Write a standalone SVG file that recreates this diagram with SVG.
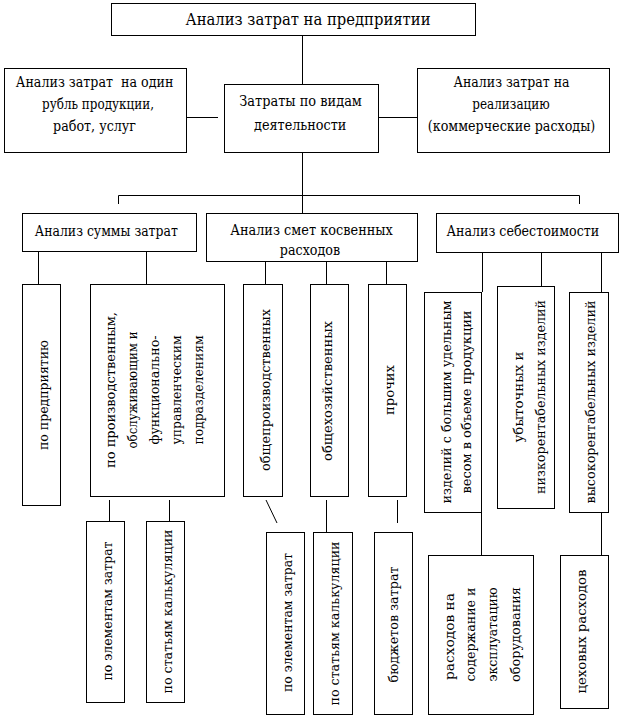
<svg xmlns="http://www.w3.org/2000/svg" width="622" height="717" viewBox="0 0 622 717">
<style>
.b{fill:#fff;stroke:#000;stroke-width:1}
.c{fill:none;stroke:#000;stroke-width:1}
.s{font-family:"DejaVu Serif","Liberation Serif",serif;font-size:14.5px;fill:#000;text-anchor:middle}
.t{font-size:16px}
.m{font-family:"DejaVu Serif","Liberation Serif",serif;font-size:12px;fill:#000;text-anchor:middle}
</style>
<rect width="622" height="717" fill="#fff"/>
<g id="connectors">
<path class="c" d="M302.5 35V84"/>
<path class="c" d="M182 117.5H218"/>
<path class="c" d="M374 117.5H422"/>
<path class="c" d="M302.5 152V213"/>
<path class="c" d="M118.5 204V195.5H579.5V204"/>
<path class="c" d="M38.5 251V284M146.5 251V284"/>
<path class="c" d="M265.5 261V284M326.5 261V284M386.5 261V284"/>
<path class="c" d="M482.5 252V292M541.5 252V286M601.5 252V292"/>
<path class="c" d="M109.5 500V522M169.5 500V522"/>
<path class="c" d="M266 500L277 523"/>
<path class="c" d="M326.5 500V533"/>
<path class="c" d="M397.5 500V523"/>
<path class="c" d="M481.5 512V560"/>
<path class="c" d="M601.5 512V560"/>
</g>
<g id="n-title"><rect class="b" x="111.5" y="3.5" width="364" height="32"/><text class="s t" x="308" y="24.5" textLength="245" lengthAdjust="spacingAndGlyphs">Анализ затрат на предприятии</text></g>
<g id="n-rub"><rect class="b" x="4.5" y="68.5" width="182" height="84"/><text class="s" x="94.6" y="86.5" xml:space="preserve" textLength="157.5" lengthAdjust="spacingAndGlyphs">Анализ затрат&#160; на один</text><text class="s" x="98" y="108.5" textLength="112" lengthAdjust="spacingAndGlyphs">рубль продукции,</text><text class="s" x="94.5" y="131" textLength="83" lengthAdjust="spacingAndGlyphs">работ, услуг</text></g>
<g id="n-vid"><rect class="b" x="224.5" y="84.5" width="154" height="68"/><text class="s" x="300.6" y="106" textLength="122.6" lengthAdjust="spacingAndGlyphs">Затраты по видам</text><text class="s" x="300.2" y="130" textLength="92.4" lengthAdjust="spacingAndGlyphs">деятельности</text></g>
<g id="n-real"><rect class="b" x="417.5" y="68.5" width="192" height="84"/><text class="s" x="511.5" y="86.5" textLength="116" lengthAdjust="spacingAndGlyphs">Анализ затрат на</text><text class="s" x="511" y="108.5" textLength="77.4" lengthAdjust="spacingAndGlyphs">реализацию</text><text class="s" x="511.5" y="131" textLength="167.4" lengthAdjust="spacingAndGlyphs">(коммерческие расходы)</text></g>
<g id="n-summ"><rect class="b" x="22.5" y="213.5" width="174" height="38"/><text class="s" x="106.3" y="236" textLength="143" lengthAdjust="spacingAndGlyphs">Анализ суммы затрат</text></g>
<g id="n-smet"><rect class="b" x="206.5" y="213.5" width="211" height="48"/><text class="s" x="311.5" y="234.5" textLength="162.7" lengthAdjust="spacingAndGlyphs">Анализ смет косвенных</text><text class="s" x="310" y="255" textLength="60.3" lengthAdjust="spacingAndGlyphs">расходов</text></g>
<g id="n-seb"><rect class="b" x="436.5" y="213.5" width="182" height="39"/><text class="s" x="522.8" y="236" textLength="152.8" lengthAdjust="spacingAndGlyphs">Анализ себестоимости</text></g>
<g id="n-pred"><rect class="b" x="22.5" y="284.5" width="38" height="221"/><text class="m" transform="translate(0,395) rotate(-90)" x="0" y="48" textLength="110" lengthAdjust="spacingAndGlyphs">по предприятию</text></g>
<g id="n-podr"><rect class="b" x="90.5" y="284.5" width="134" height="212"/>
<text class="m" transform="translate(0,390) rotate(-90)" x="0" y="115" textLength="156" lengthAdjust="spacingAndGlyphs">по производственным,</text>
<text class="m" transform="translate(0,390) rotate(-90)" x="0" y="137" textLength="117" lengthAdjust="spacingAndGlyphs">обслуживающим и</text>
<text class="m" transform="translate(0,390) rotate(-90)" x="0" y="159" textLength="109" lengthAdjust="spacingAndGlyphs">функционально-</text>
<text class="m" transform="translate(0,390) rotate(-90)" x="0" y="181" textLength="109" lengthAdjust="spacingAndGlyphs">управленческим</text>
<text class="m" transform="translate(0,390) rotate(-90)" x="0" y="203" textLength="109" lengthAdjust="spacingAndGlyphs">подразделениям</text></g>
<g id="n-obpr"><rect class="b" x="243.5" y="284.5" width="39" height="212"/><text class="m" transform="translate(0,390) rotate(-90)" x="0" y="270" textLength="162" lengthAdjust="spacingAndGlyphs">общепроизводственных</text></g>
<g id="n-obhoz"><rect class="b" x="310.5" y="284.5" width="38" height="212"/><text class="m" transform="translate(0,391) rotate(-90)" x="0" y="332" textLength="140" lengthAdjust="spacingAndGlyphs">общехозяйственных</text></g>
<g id="n-proch"><rect class="b" x="368.5" y="284.5" width="38" height="212"/><text class="m" transform="translate(0,390) rotate(-90)" x="0" y="394" textLength="50" lengthAdjust="spacingAndGlyphs">прочих</text></g>
<g id="n-izd"><rect class="b" x="424.5" y="292.5" width="57" height="220"/>
<text class="m" transform="translate(0,402) rotate(-90)" x="0" y="450.5" textLength="203" lengthAdjust="spacingAndGlyphs">изделий с большим удельным</text>
<text class="m" transform="translate(0,402) rotate(-90)" x="0" y="471" textLength="183" lengthAdjust="spacingAndGlyphs">весом в объеме продукции</text></g>
<g id="n-ub"><rect class="b" x="497.5" y="286.5" width="57" height="222"/>
<text class="m" transform="translate(0,397) rotate(-90)" x="0" y="523" textLength="91" lengthAdjust="spacingAndGlyphs">убыточных и</text>
<text class="m" transform="translate(0,397) rotate(-90)" x="0" y="544.5" textLength="194" lengthAdjust="spacingAndGlyphs">низкорентабельных изделий</text></g>
<g id="n-vys"><rect class="b" x="569.5" y="292.5" width="39" height="220"/><text class="m" transform="translate(0,402) rotate(-90)" x="0" y="594.5" textLength="203" lengthAdjust="spacingAndGlyphs">высокорентабельных изделий</text></g>
<g id="n-el1"><rect class="b" x="86.5" y="521.5" width="38" height="181"/><text class="m" transform="translate(0,611) rotate(-90)" x="0" y="112" textLength="139" lengthAdjust="spacingAndGlyphs">по элементам затрат</text></g>
<g id="n-st1"><rect class="b" x="146.5" y="521.5" width="38" height="181"/><text class="m" transform="translate(0,611.5) rotate(-90)" x="0" y="172" textLength="164" lengthAdjust="spacingAndGlyphs">по статьям калькуляции</text></g>
<g id="n-el2"><rect class="b" x="266.5" y="532.5" width="38" height="182"/><text class="m" transform="translate(0,622.5) rotate(-90)" x="0" y="292" textLength="139" lengthAdjust="spacingAndGlyphs">по элементам затрат</text></g>
<g id="n-st2"><rect class="b" x="313.5" y="532.5" width="39" height="182"/><text class="m" transform="translate(0,623.5) rotate(-90)" x="0" y="338.5" textLength="164" lengthAdjust="spacingAndGlyphs">по статьям калькуляции</text></g>
<g id="n-bud"><rect class="b" x="374.5" y="532.5" width="38" height="182"/><text class="m" transform="translate(0,624.5) rotate(-90)" x="0" y="398" textLength="116" lengthAdjust="spacingAndGlyphs">бюджетов затрат</text></g>
<g id="n-obor"><rect class="b" x="428.5" y="555.5" width="105" height="159"/>
<text class="m" transform="translate(0,636.5) rotate(-90)" x="0" y="454" textLength="87" lengthAdjust="spacingAndGlyphs">расходов на</text>
<text class="m" transform="translate(0,634.5) rotate(-90)" x="0" y="475" textLength="94" lengthAdjust="spacingAndGlyphs">содержание и</text>
<text class="m" transform="translate(0,634.5) rotate(-90)" x="0" y="497" textLength="94" lengthAdjust="spacingAndGlyphs">эксплуатацию</text>
<text class="m" transform="translate(0,634.5) rotate(-90)" x="0" y="520" textLength="95" lengthAdjust="spacingAndGlyphs">оборудования</text></g>
<g id="n-ceh"><rect class="b" x="560.5" y="555.5" width="48" height="153"/><text class="m" transform="translate(0,631.5) rotate(-90)" x="0" y="586" textLength="124" lengthAdjust="spacingAndGlyphs">цеховых расходов</text></g>
</svg>
